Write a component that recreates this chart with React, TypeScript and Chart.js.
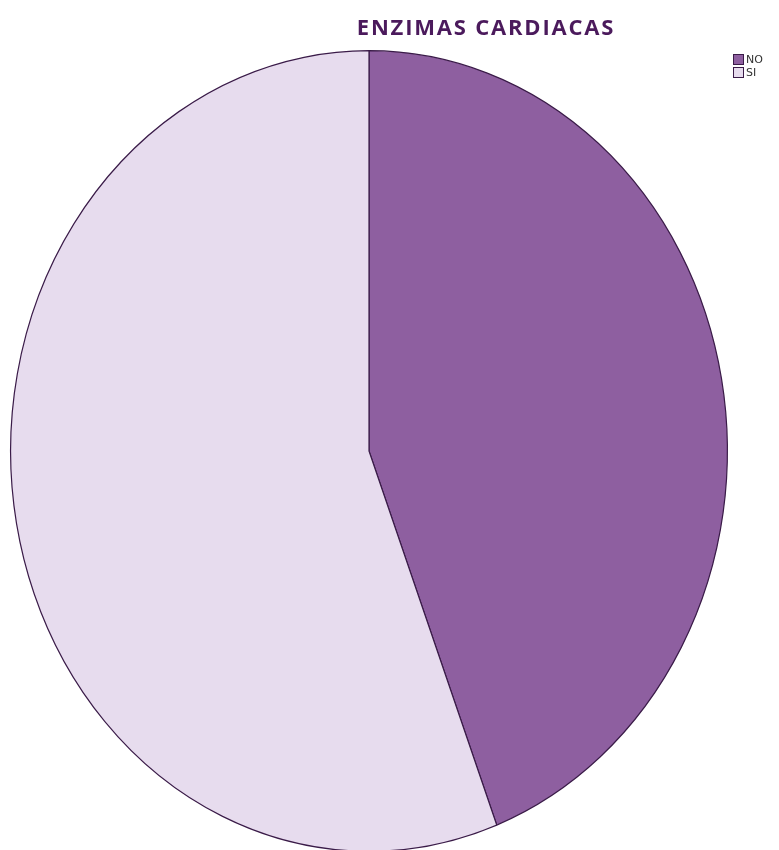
import React, { useEffect, useRef } from "react";
import { Chart, registerables } from "chart.js";

Chart.register(...registerables);

const TITLE = "ENZIMAS CARDIACAS";
const CATEGORIES = ["NO", "SI"];
const VALUES = [44.2, 55.8];
const COLORS = ["#8e5fa0", "#e7dcee"];
const BORDER = "#3a1b48";

const ellipsePlugin = {
  id: "ellipse",
  beforeDatasetsDraw(chart: any) {
    const arc = chart.getDatasetMeta(0).data[0];
    if (!arc) return;
    const ctx = chart.ctx;
    const cx = arc.x;
    const cy = arc.y;
    ctx.save();
    ctx.translate(cx, cy);
    ctx.scale(1, 401 / 359);
    ctx.translate(-cx, -cy);
  },
  afterDatasetsDraw(chart: any) {
    if (!chart.getDatasetMeta(0).data[0]) return;
    chart.ctx.restore();
  },
};

export default function App() {
  const ref = useRef<HTMLCanvasElement>(null);
  useEffect(() => {
    if (!ref.current) return;
    const chart = new Chart(ref.current, {
      type: "pie",
      data: {
        labels: CATEGORIES,
        datasets: [
          {
            data: VALUES,
            backgroundColor: COLORS,
            borderColor: BORDER,
            borderWidth: 1.2,
            clip: false as any,
          },
        ],
      },
      options: {
        responsive: false,
        animation: false,
        events: [],
        layout: { padding: { left: 10, right: 51, top: 92, bottom: 40 } },
        plugins: {
          legend: { display: false },
          title: { display: false },
          tooltip: { enabled: false },
        },
      },
      plugins: [ellipsePlugin],
    });
    return () => chart.destroy();
  }, []);

  return (
    <div style={{ position: "absolute", left: 0, top: 0, width: 779, height: 850, background: "#fff", overflow: "hidden" }}>
      <canvas ref={ref} width={779} height={850} style={{ position: "absolute", left: 0, top: 0 }} />
      <div
        style={{
          position: "absolute",
          left: 286,
          width: 400,
          top: 11,
          textAlign: "center",
          fontFamily: "'Open Sans', sans-serif",
          fontWeight: 700,
          fontSize: 22,
          letterSpacing: 1.8,
          lineHeight: "30px",
          color: "#4b1a5c",
        }}
      >
        {TITLE}
      </div>
      <div style={{ position: "absolute", left: 733, top: 53, fontFamily: "'DejaVu Sans', sans-serif", fontSize: 11, color: "#333" }}>
        {CATEGORIES.map((c, i) => (
          <div key={c} style={{ display: "flex", alignItems: "center", height: 13 }}>
            <span style={{ display: "inline-block", width: 9, height: 9, background: COLORS[i], border: "1px solid " + BORDER, marginRight: 2 }} />
            <span>{c}</span>
          </div>
        ))}
      </div>
    </div>
  );
}
